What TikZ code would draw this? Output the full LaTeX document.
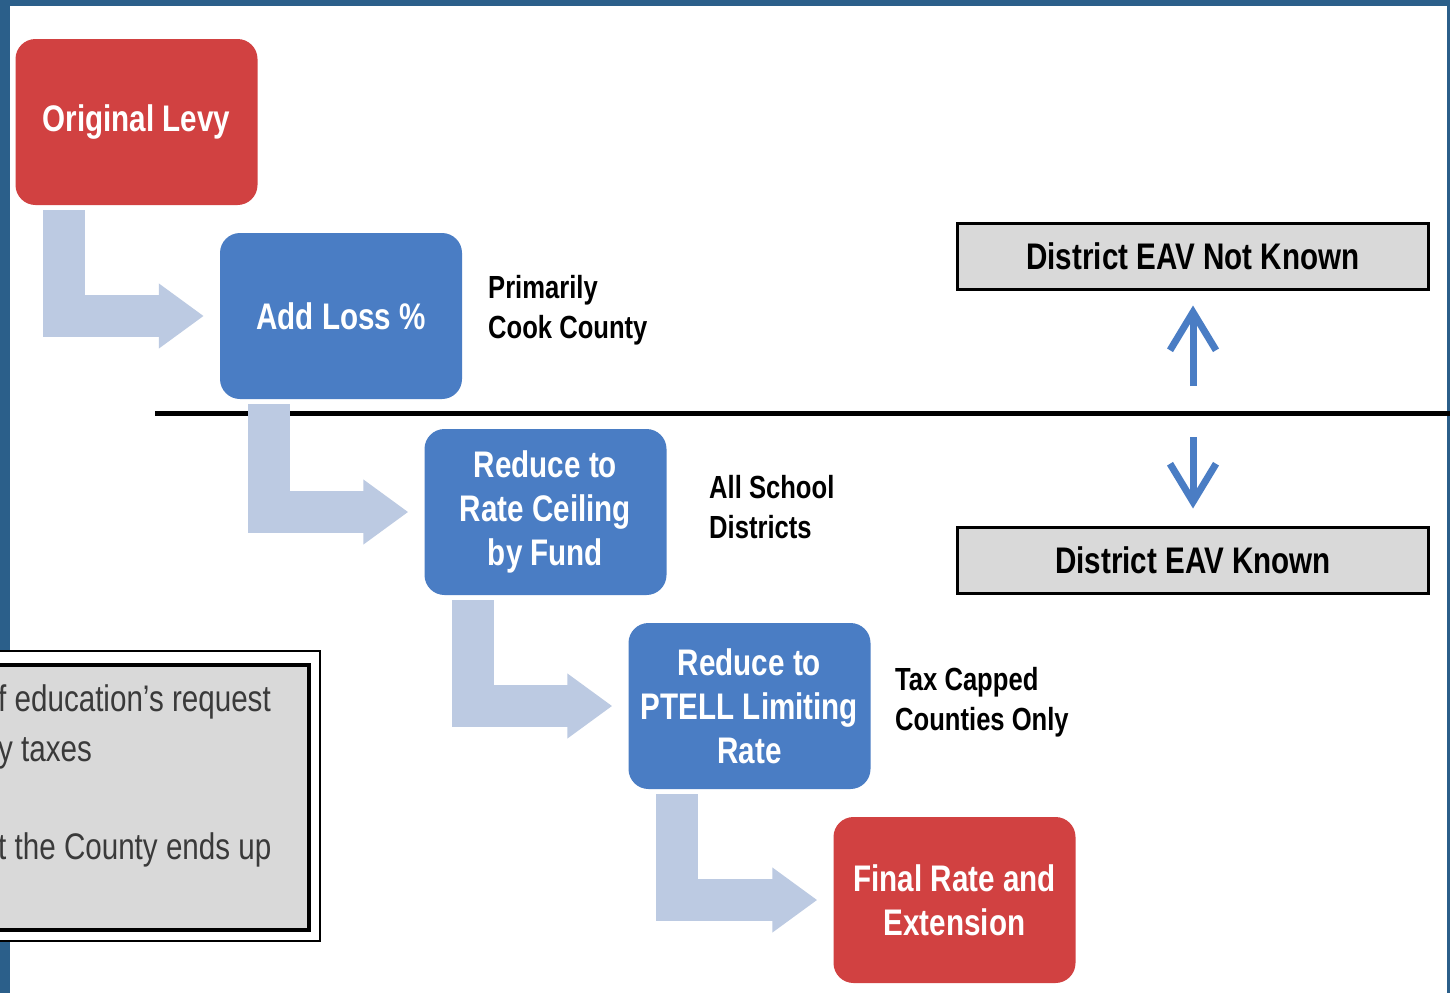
\documentclass[tikz,border=0pt]{standalone}
\usepackage{fontspec}
\setmainfont{Liberation Sans}
\newfontfamily\cond[FakeStretch=0.8]{Liberation Sans}
\usetikzlibrary{arrows.meta,calc}
\definecolor{frameblue}{RGB}{43,95,138}
\definecolor{boxred}{RGB}{209,65,65}
\definecolor{boxblue}{RGB}{74,125,196}
\definecolor{flowgray}{RGB}{188,202,226}
\definecolor{panelgray}{RGB}{217,217,217}
\definecolor{notegray}{RGB}{58,58,58}
\begin{document}
\begin{tikzpicture}[x=1pt,y=-1pt,
 stepbox/.style={rounded corners=20pt, minimum width=242pt, minimum height=166pt, inner sep=0pt, align=center, text=white, font=\cond\bfseries\fontsize{37}{44}\selectfont},
 redbox/.style={stepbox, fill=boxred},
 bluebox/.style={stepbox, fill=boxblue},
 flow/.style={color=flowgray, line width=42pt, line join=miter, -{Triangle[length=45pt,width=62pt]}},
 sidelabel/.style={anchor=west, align=left, inner sep=0pt, font=\cond\bfseries\fontsize{32}{40}\selectfont},
 eavbox/.style={draw=black, line width=3pt, fill=panelgray, minimum width=471pt, minimum height=66pt, inner sep=0pt, font=\cond\bfseries\fontsize{37}{44}\selectfont},
 eavarrow/.style={color=boxblue, line width=7pt, -{Straight Barb[length=38pt,width=46pt]}},
 notetext/.style={anchor=base west, inner sep=0pt, text=notegray, font=\cond\fontsize{37}{44}\selectfont}
]
\useasboundingbox (0,0) rectangle (1450,993);
\clip (0,0) rectangle (1450,993);
\fill[white] (0,0) rectangle (1450,993);
\fill[frameblue] (0,0) rectangle (1450,6);
\fill[frameblue] (0,0) rectangle (10,993);
\fill[frameblue] (1447,0) rectangle (1450,993);

% divider
\coordinate (divl) at (155,413);
\coordinate (divr) at (1450,413);
\draw[line width=5pt] (divl) -- (divr);

% steps
\node[redbox] (orig) at (136.5,122) {Original Levy};
\node[bluebox] (loss) at (341,316) {Add Loss \%};
\node[bluebox] (ceil) at (545.5,512) {Reduce to\\Rate Ceiling\\by Fund};
\node[bluebox] (ptell) at (749.5,706) {Reduce to\\PTELL Limiting\\Rate};
\node[redbox] (final) at (954.5,900) {Final Rate and\\Extension};

% flow arrows
\draw[flow] ([xshift=49pt,yshift=-5pt]orig.south west) |- ([xshift=-16pt]loss.west);
\draw[flow] ([xshift=49pt,yshift=-5pt]loss.south west) |- ([xshift=-16pt]ceil.west);
\draw[flow] ([xshift=49pt,yshift=-5pt]ceil.south west) |- ([xshift=-16pt]ptell.west);
\draw[flow] ([xshift=49pt,yshift=-5pt]ptell.south west) |- ([xshift=-16pt]final.west);

% side labels
\node[sidelabel] (lbl1) at (488,310) {Primarily\\Cook County};
\node[sidelabel] (lbl2) at (709,507) {All School\\Districts};
\node[sidelabel] (lbl3) at (895,702) {Tax Capped\\Counties Only};

% EAV
\node[eavbox] (notknown) at (1193,256) {District EAV Not Known};
\node[eavbox] (known) at (1193,560) {District EAV Known};
\coordinate (upstart) at (1193,386);
\coordinate (downstart) at (1193,437);
\draw[eavarrow, shorten >=15pt] (upstart) -- (notknown);
\draw[eavarrow, shorten >=17pt] (downstart) -- (known);

% note box
\filldraw[fill=white, draw=black, line width=2pt] (-10,651) rectangle (320,941);
\filldraw[fill=panelgray, draw=black, line width=3.5pt] (-10,665) rectangle (309,930);
\node[notetext] (n1) at (-2,711) {f education’s request};
\node[notetext] (n2) at (-2,761) {y taxes};
\node[notetext] (n3) at (-2,859) {t the County ends up};
\end{tikzpicture}
\end{document}
